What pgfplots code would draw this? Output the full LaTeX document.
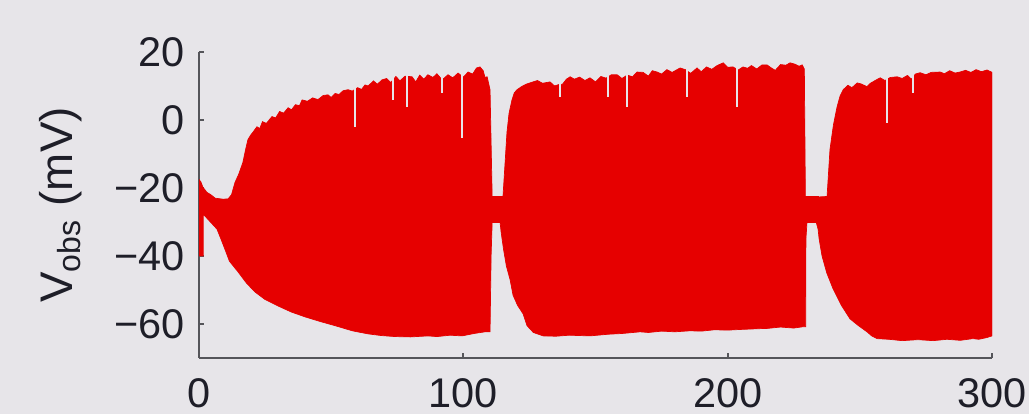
\documentclass[border=0pt]{standalone}
\usepackage{pgfplots}
\pgfplotsset{compat=1.18}
\usepackage{fontspec}
\setmainfont{Liberation Sans}
\definecolor{bg}{RGB}{231,229,233}
\definecolor{vred}{RGB}{230,0,0}
\definecolor{axgray}{RGB}{85,85,90}
\definecolor{txt}{RGB}{30,30,40}
\begin{document}
\begin{tikzpicture}
\fill[bg] (0,0) rectangle (10.29cm,4.14cm);
\useasboundingbox (0,0) rectangle (10.29cm,4.14cm);
\begin{axis}[
  at={(1.99cm,0.56cm)}, anchor=south west,
  width=7.93cm, height=3.06cm, scale only axis,
  xmin=0, xmax=300, ymin=-70, ymax=20,
  axis x line*=bottom, axis y line*=left,
  axis line style={axgray, line width=0.6pt, -},
  xtick={0,100,200,300}, xticklabels={0,100,200,300},
  ytick={-60,-40,-20,0,20}, yticklabels={−60,−40,−20,0,20},
  tick align=inside, major tick length=0.05cm,
  tick style={axgray, line width=0.6pt},
  ticklabel style={font=\fontsize{11.8}{13}\selectfont, text=txt},
  xticklabel style={yshift=-0.08cm},
  yticklabel style={xshift=-0.02cm},
  ylabel={V\textsubscript{obs} (mV)},
  ylabel style={at={(axis description cs:-0.160,0.5)}, anchor=base, font=\fontsize{13}{15}\selectfont, text=txt},
]
\addplot[fill=vred, draw=vred, line width=0.2pt] coordinates {
(0,-17.5) (0.7,-18.2) (1.5,-19.8) (3,-21.3) (4.5,-22.0) (6.1,-23.0) (9.1,-23.3) (11.0,-23.2) (12.3,-22.0)
(13.6,-18.4) (15.0,-16.0) (16.6,-12.5) (17.6,-8.8) (18.5,-5.8) (19.5,-4.5) (20.5,-3.5) (21.9,-2.0) (23,-2.5) (24,-0.5) (25.5,-1.0)
(27.6,1.0) (29,0.6) (30.5,2.5) (32,2.0) (33.7,3.6) (35,3.0) (36.5,4.5) (38,4.2) (39,5.9) (41,5.5) (43,6.5) (45,6.0) (47,7.2)
(48.8,7.4) (50,6.6) (51.5,7.8) (53,7.5) (54.5,8.6) (56.4,8.9) (58,8.5) (60,9.5) (61.5,9.0) (62.8,10.3) (64,10.0) (66,11.5)
(67.5,10.5) (69.2,11.8) (71,12.2) (72.5,11.0) (74.5,12.8) (76,11.5) (78,12.9) (80.6,12.7) (82,11.2) (83.5,13.2) (85,12.0)
(86.6,13.3) (88.5,12.5) (90,13.6) (92,11.8) (94.2,13.3) (96,12.4) (98,13.8) (100,12.6) (101.8,14.1) (103.5,13.5) (105,15.3)
(106.3,15.6) (107.5,14.5) (108.2,12.5) (109.0,12.7) (110.1,8.9) (110.9,-22.5) (113,-22.8) (115,-22.5)
(116.0,-10) (116.5,-3.7) (117.3,2) (118.4,5.9) (119.3,8.0) (120.3,8.9) (122,9.8) (124,10.6) (126.4,11.2) (128,11.6) (130,10.8)
(132.8,11.2) (134.5,10.0) (136,10.4) (137.5,10.5) (139,12.0) (140.4,12.7) (142,12.0) (144,12.6) (146,11.6) (147.9,12.4) (150,11.2)
(152,12.8) (154,12.3) (156,13.3) (158.2,13.3) (160,12.2) (162,13.2) (164,12.7) (165.7,14.1) (168,14.0) (170,12.9) (171.5,14.5)
(173.3,14.1) (175,13.5) (177,14.8) (179,14.0) (182.0,15.3) (184,14.8) (186,13.7) (188.4,15.3) (190,14.2) (192,15.6) (194,14.9)
(196,16.0) (198.3,16.8) (200,15.5) (202,15.6) (204,14.7) (205.8,15.6) (207.5,15.2) (209,16.0) (211,15.0) (213,16.2) (214.9,16.2)
(216.5,15.3) (218,14.6) (220,16.3) (222,16.1) (223.6,16.8) (225.5,16.4) (227,15.8) (228.2,16.2) (229.0,15.0) (229.4,-22.5)
(233,-22.7) (237.6,-22.5)
(238.2,-15) (238.7,-8.7) (240,-1.5) (241.4,3.9) (242.5,7.0) (243.7,8.9) (245.5,10.2) (247,9.5) (249,10.9) (250.5,10.6) (252.7,9.8)
(254,10.8) (256,11.7) (257.7,12.4) (259.5,11.6) (261.5,12.5) (264.1,12.7) (266,12.2) (268,13.1) (269.5,12.0) (271,13.5) (272.8,13.9)
(275,13.3) (277,14.0) (280.4,14.1) (282,13.6) (284,14.5) (286,13.8) (287.9,14.1) (290,14.6) (292,14.0) (294,14.8) (296,14.2)
(298.1,14.7) (299.5,14.2) (300,14.0)
(300,-63.5) (298,-64.0) (295,-64.5) (292.8,-64.3) (288,-64.8) (283,-64.5) (277.7,-64.9) (272,-64.6) (266,-64.9) (261,-64.5)
(256.5,-64.3) (254.5,-63.5) (252.7,-62.3) (249.5,-60.5) (246.3,-58.5) (243,-54.5) (239.9,-49.7) (237.5,-45) (235.7,-40.0)
(234.6,-35) (234.2,-32.1) (233.5,-30.1) (230.0,-30.1) (229.6,-35) (229.5,-60.8)
(228.5,-60.8) (225,-61.2) (220,-60.9) (215,-61.3) (211.1,-61.4) (205,-61.6) (200,-61.8) (195,-61.7) (190,-62.1) (185.7,-62.0)
(180,-62.3) (175,-62.1) (170,-62.5) (166.9,-62.3) (160,-62.8) (155,-63.0) (147.9,-63.5) (140,-63.3) (135,-63.6) (130.2,-63.5)
(126.5,-62.5) (124.1,-60.5) (122.6,-57.0) (120.5,-54.5) (118.8,-51.5) (117.7,-47.0) (116.3,-43.0) (115.2,-38) (114.3,-33)
(113.9,-30.1) (110.9,-30.1) (110.5,-40) (110.1,-62.3)
(108.2,-62.3) (104,-62.8) (99.5,-63.5) (95,-63.3) (90,-63.7) (86.6,-63.5) (80,-63.8) (74.2,-63.7) (69,-63.4) (63.9,-62.9)
(58,-62.0) (51.5,-60.5) (46,-59.3) (40.1,-57.9) (35,-56.5) (29.9,-54.7) (25,-52.8) (21.2,-50.6) (18,-48) (14.8,-44.7)
(11.5,-41.5) (9.8,-38.0) (8.3,-35.0) (6.8,-32.1) (1.6,-27.7) (1.6,-40.0) (0,-40.0)
} -- cycle;
\addplot[fill=vred, draw=vred, line width=0.2pt, forget plot] coordinates {(110.3,-22.5) (115.2,-22.5) (115.2,-30.1) (110.3,-30.1)} -- cycle;
\addplot[fill=vred, draw=vred, line width=0.2pt, forget plot] coordinates {(229.2,-22.5) (234.3,-22.5) (234.3,-30.1) (229.2,-30.1)} -- cycle;
\addplot[bg, line width=0.45pt, forget plot] coordinates {(59.0,20) (59.0,-2.0)};
\addplot[bg, line width=0.45pt, forget plot] coordinates {(99.5,20) (99.5,-5.2)};
\addplot[bg, line width=0.45pt, forget plot] coordinates {(73.4,20) (73.4,5.9)};
\addplot[bg, line width=0.45pt, forget plot] coordinates {(78.7,20) (78.7,3.9)};
\addplot[bg, line width=0.45pt, forget plot] coordinates {(91.9,20) (91.9,8.0)};
\addplot[bg, line width=0.45pt, forget plot] coordinates {(136.6,20) (136.6,6.8)};
\addplot[bg, line width=0.45pt, forget plot] coordinates {(154.7,20) (154.7,6.8)};
\addplot[bg, line width=0.45pt, forget plot] coordinates {(161.9,20) (161.9,3.9)};
\addplot[bg, line width=0.45pt, forget plot] coordinates {(184.6,20) (184.6,6.8)};
\addplot[bg, line width=0.45pt, forget plot] coordinates {(203.6,20) (203.6,3.9)};
\addplot[bg, line width=0.45pt, forget plot] coordinates {(260.3,20) (260.3,-0.8)};
\addplot[bg, line width=0.45pt, forget plot] coordinates {(270.1,20) (270.1,8.0)};
\end{axis}
\end{tikzpicture}
\end{document}
